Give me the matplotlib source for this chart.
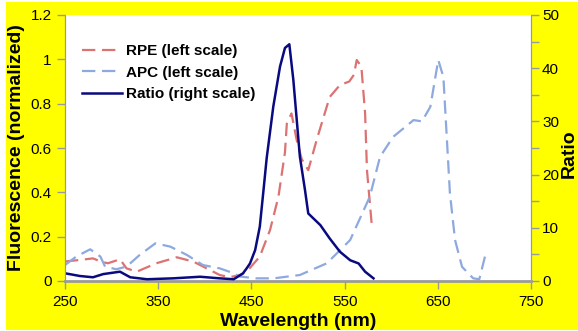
import matplotlib
matplotlib.use("Agg")
import matplotlib.pyplot as plt
from matplotlib.patches import Rectangle
from matplotlib.lines import Line2D

plt.rcParams['font.family'] = ['Liberation Sans', 'DejaVu Sans']

# ---- data ----
rpe_wl = [250, 266, 280, 289, 296, 309, 316, 327, 348, 370, 388, 402, 416, 427, 440, 448, 459,
          470, 479, 486, 488, 493, 498.6, 504, 511, 520, 534, 545, 555, 560, 563, 568, 572, 574, 579]
rpe_val = [0.088, 0.095, 0.102, 0.087, 0.080, 0.098, 0.057, 0.042, 0.080, 0.107, 0.087, 0.057, 0.027,
           0.017, 0.030, 0.057, 0.11, 0.23, 0.38, 0.58, 0.71, 0.756, 0.636, 0.55, 0.50, 0.636, 0.83,
           0.884, 0.90, 0.93, 0.997, 0.967, 0.756, 0.50, 0.26]

apc_wl = [250, 262, 277, 288, 293, 305, 316, 330, 347, 363, 381, 398, 416, 431, 438, 455, 474, 502,
          531, 556, 577, 588, 602, 624, 633, 642, 650.5, 656, 661, 663, 668.5, 676, 688, 694.5, 700.6]
apc_val = [0.072, 0.11, 0.143, 0.11, 0.065, 0.053, 0.065, 0.117, 0.17, 0.155, 0.117, 0.072, 0.057,
           0.035, 0.02, 0.012, 0.012, 0.027, 0.08, 0.185, 0.38, 0.56, 0.65, 0.726, 0.72, 0.786, 0.997,
           0.92, 0.546, 0.396, 0.185, 0.064, 0.012, 0.008, 0.11]

ratio_wl = [250, 266, 280, 291, 309, 320, 338, 366, 395, 416, 431, 438, 441, 445, 448.5, 454, 459,
            463, 466.4, 473.5, 480.7, 486, 490.7, 495, 502, 507.5, 511, 524, 534, 545, 556, 565, 572, 581]
ratio_val = [1.45, 0.94, 0.7, 1.3, 1.75, 0.7, 0.33, 0.5, 0.8, 0.5, 0.33, 1.1, 1.45, 2.4, 3.3, 5.8, 10.2,
             17.1, 23.1, 32.8, 40.3, 43.8, 44.5, 37.8, 23.4, 17.1, 12.7, 10.5, 8.0, 5.5, 3.9, 3.3, 1.75, 0.5]

x_ticks = [250, 350, 450, 550, 650, 750]
yl_ticks = [0, 0.2, 0.4, 0.6, 0.8, 1.0, 1.2]
yl_labels = ['0', '0.2', '0.4', '0.6', '0.8', '1', '1.2']
yr_ticks = [0, 5, 10, 15, 20, 25, 30, 35, 40, 45, 50]
yr_labels = ['0', '', '10', '', '20', '', '30', '', '40', '', '50']

YELLOW = '#ffff00'
RPE_C = '#dc7272'
APC_C = '#8ea9de'
RATIO_C = '#0a0a80'
SPINE_C = '#9a9a9a'

fig = plt.figure(figsize=(5.78, 3.31), dpi=100)
fig.patch.set_facecolor('white')
fig.patches.append(Rectangle((6 / 578, 1 / 331), 1 - 6 / 578, 1 - 3 / 331,
                             transform=fig.transFigure, facecolor=YELLOW,
                             edgecolor='none', zorder=-10))

ax = fig.add_axes([65 / 578, 50 / 331, 466 / 578, 266 / 331])
ax.set_facecolor('white')
ax2 = ax.twinx()

l1, = ax.plot(rpe_wl, rpe_val, color=RPE_C, lw=1.6, dashes=(6, 3), label='RPE (left scale)')
l2, = ax.plot(apc_wl, apc_val, color=APC_C, lw=1.6, dashes=(6, 3), label='APC (left scale)')
l3, = ax2.plot(ratio_wl, ratio_val, color=RATIO_C, lw=1.8, label='Ratio (right scale)')

ax.set_xlim(250, 750)
ax.set_ylim(0, 1.2)
ax2.set_ylim(0, 50)

ax.set_xticks(x_ticks)
ax.set_xticklabels([str(t) for t in x_ticks])
ax.set_yticks(yl_ticks)
ax.set_yticklabels(yl_labels)
ax2.set_yticks(yr_ticks)
ax2.set_yticklabels(yr_labels)

for a in (ax, ax2):
    for s in a.spines.values():
        s.set_color(SPINE_C)
    a.spines['top'].set_visible(False)
    a.tick_params(colors=SPINE_C, labelcolor='black', labelsize=11, length=6, width=1, direction='out')
ax.spines['bottom'].set_linewidth(2)
ax2.spines['bottom'].set_visible(False)
ax.tick_params(axis='x', pad=4)
ax2.tick_params(axis='y', pad=2)

ax.set_xlabel('Wavelength (nm)', fontsize=14, fontweight='bold', labelpad=3)
ax.set_ylabel('Fluorescence (normalized)', fontsize=14, fontweight='bold', labelpad=4)
ax2.set_ylabel('Ratio', fontsize=14, fontweight='bold', labelpad=2)
ax2.yaxis.set_label_coords(1.064, 0.48)

leg = ax.legend(handles=[l1, l2, l3], loc='upper left', bbox_to_anchor=(76 / 578, 1 - 38 / 331),
                bbox_transform=fig.transFigure, frameon=False, prop={'weight': 'bold', 'size': 11},
                handlelength=2.6, handletextpad=0.3, labelspacing=0.5, borderaxespad=0)
leg.set_zorder(5)

fig.savefig('out.png', dpi=100, facecolor=fig.get_facecolor())
